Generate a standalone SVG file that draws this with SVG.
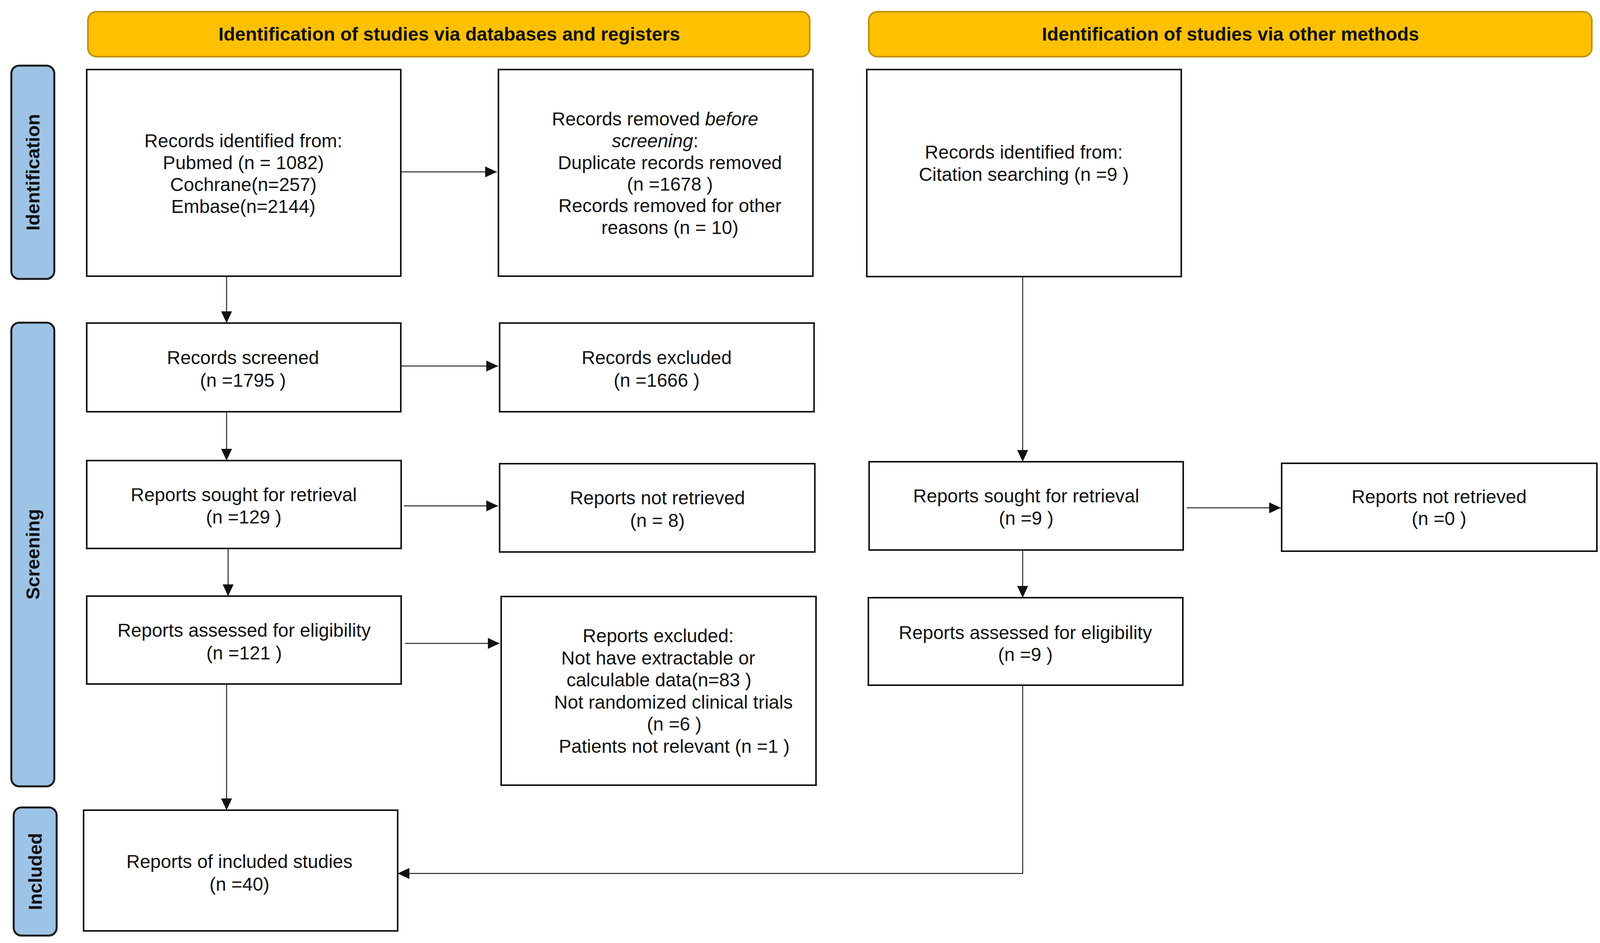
<svg xmlns="http://www.w3.org/2000/svg" width="4107" height="2414" viewBox="0 0 4107 2414">
<style>
.hdr{fill:#FFC000;stroke:#BF9000;stroke-width:4}
.side{fill:#9DC3E6;stroke:#1a1a1a;stroke-width:5}
.box{fill:#fff;stroke:#111;stroke-width:4}
.t{font-family:"Liberation Sans",Arial,sans-serif;font-size:48px;fill:#111;text-anchor:middle}
.hb{font-family:"Liberation Sans",Arial,sans-serif;font-size:48px;font-weight:bold;fill:#111;text-anchor:middle}
.conn{fill:none;stroke:#222;stroke-width:2.5}
</style>
<defs>
<marker id="ah" markerUnits="userSpaceOnUse" markerWidth="30" markerHeight="28" refX="30" refY="14" orient="auto">
<path d="M0,0 L30,14 L0,28 Z" fill="#111"/>
</marker>
</defs>
<rect width="4107" height="2414" fill="#fff"/>

<g id="header-databases"><rect class="hdr" x="225" y="30" width="1848" height="115" rx="22"/><text class="hb" x="1150" y="104">Identification of studies via databases and registers</text></g>
<g id="header-other"><rect class="hdr" x="2224" y="30" width="1851" height="115" rx="22"/><text class="hb" x="3150" y="104">Identification of studies via other methods</text></g>

<g id="side-identification"><rect class="side" x="29" y="168" width="110" height="546" rx="20"/><text class="hb" transform="translate(84,441) rotate(-90)" y="17">Identification</text></g>
<g id="side-screening"><rect class="side" x="29" y="826" width="110" height="1187" rx="20"/><text class="hb" transform="translate(84,1419) rotate(-90)" y="17">Screening</text></g>
<g id="side-included"><rect class="side" x="35" y="2067" width="110" height="328" rx="20"/><text class="hb" transform="translate(90,2231) rotate(-90)" y="17">Included</text></g>

<g id="connectors">
<path class="conn" d="M1026,440 H1272" marker-end="url(#ah)"/>
<path class="conn" d="M580,707 V827" marker-end="url(#ah)"/>
<path class="conn" d="M1026,937 H1275" marker-end="url(#ah)"/>
<path class="conn" d="M580,1054 V1179" marker-end="url(#ah)"/>
<path class="conn" d="M1034,1295 H1275" marker-end="url(#ah)"/>
<path class="conn" d="M584,1404 V1526" marker-end="url(#ah)"/>
<path class="conn" d="M1037,1647 H1279" marker-end="url(#ah)"/>
<path class="conn" d="M580,1751 V2074" marker-end="url(#ah)"/>
<path class="conn" d="M2618,708 V1182" marker-end="url(#ah)"/>
<path class="conn" d="M3038,1300 H3279" marker-end="url(#ah)"/>
<path class="conn" d="M2618,1408 V1530" marker-end="url(#ah)"/>
<path class="conn" d="M2618,1754 V2236 H1018" marker-end="url(#ah)"/>
</g>

<g id="records-identified"><rect class="box" x="222" y="178" width="804" height="529"/>
<text class="t" x="623" y="377">Records identified from:</text>
<text class="t" x="623" y="433">Pubmed (n = 1082)</text>
<text class="t" x="623" y="489">Cochrane(n=257)</text>
<text class="t" x="623" y="545">Embase(n=2144)</text></g>

<g id="records-removed"><rect class="box" x="1276" y="178" width="805" height="529"/>
<text class="t" x="1677" y="321">Records removed <tspan font-style="italic">before</tspan></text>
<text class="t" x="1677" y="377"><tspan font-style="italic">screening</tspan>:</text>
<text class="t" x="1715" y="433">Duplicate records removed</text>
<text class="t" x="1715" y="488">(n =1678 )</text>
<text class="t" x="1715" y="543">Records removed for other</text>
<text class="t" x="1715" y="599">reasons (n = 10)</text></g>

<g id="citation-identified"><rect class="box" x="2219" y="178" width="805" height="530"/>
<text class="t" x="2621" y="406">Records identified from:</text>
<text class="t" x="2621" y="463">Citation searching (n =9 )</text></g>

<g id="records-screened"><rect class="box" x="222" y="827" width="804" height="227"/>
<text class="t" x="622" y="932">Records screened</text>
<text class="t" x="622" y="990">(n =1795 )</text></g>

<g id="records-excluded"><rect class="box" x="1279" y="827" width="805" height="227"/>
<text class="t" x="1681" y="932">Records excluded</text>
<text class="t" x="1681" y="990">(n =1666 )</text></g>

<g id="reports-sought"><rect class="box" x="222" y="1179" width="805" height="225"/>
<text class="t" x="624" y="1283">Reports sought for retrieval</text>
<text class="t" x="624" y="1340">(n =129 )</text></g>

<g id="reports-not-retrieved"><rect class="box" x="1279" y="1187" width="807" height="226"/>
<text class="t" x="1683" y="1291">Reports not retrieved</text>
<text class="t" x="1683" y="1349">(n = 8)</text></g>

<g id="reports-sought-other"><rect class="box" x="2225" y="1182" width="804" height="226"/>
<text class="t" x="2627" y="1286">Reports sought for retrieval</text>
<text class="t" x="2627" y="1343">(n =9 )</text></g>

<g id="reports-not-retrieved-other"><rect class="box" x="3281" y="1186" width="807" height="225"/>
<text class="t" x="3684" y="1288">Reports not retrieved</text>
<text class="t" x="3684" y="1344">(n =0 )</text></g>

<g id="reports-assessed"><rect class="box" x="222" y="1526" width="805" height="225"/>
<text class="t" x="625" y="1630">Reports assessed for eligibility</text>
<text class="t" x="625" y="1688">(n =121 )</text></g>

<g id="reports-excluded"><rect class="box" x="1283" y="1527" width="806" height="483"/>
<text class="t" x="1685" y="1644">Reports excluded:</text>
<text class="t" x="1685" y="1701">Not have extractable or</text>
<text class="t" x="1687" y="1757">calculable data(n=83 )</text>
<text class="t" x="1724" y="1814">Not randomized clinical trials</text>
<text class="t" x="1726" y="1870">(n =6 )</text>
<text class="t" x="1726" y="1927">Patients not relevant (n =1 )</text></g>

<g id="reports-assessed-other"><rect class="box" x="2223" y="1530" width="805" height="224"/>
<text class="t" x="2625" y="1636">Reports assessed for eligibility</text>
<text class="t" x="2625" y="1692">(n =9 )</text></g>

<g id="reports-included"><rect class="box" x="214" y="2074" width="804" height="309"/>
<text class="t" x="613" y="2222">Reports of included studies</text>
<text class="t" x="613" y="2280">(n =40)</text></g>
</svg>
